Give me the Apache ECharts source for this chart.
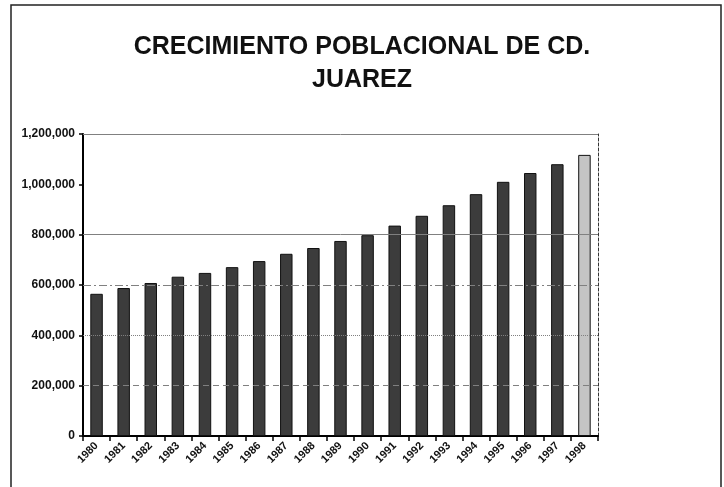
<!DOCTYPE html>
<html>
<head>
<meta charset="utf-8">
<script src="https://cdn.jsdelivr.net/npm/echarts@6/dist/echarts.min.js"></script>
<style>
  html, body { margin: 0; padding: 0; background: #fff; }
  #chart { width: 724px; height: 487px; }
</style>
</head>
<body>
<div id="chart"></div>
<script>
// Población por año (habitantes)
const years = ['1980','1981','1982','1983','1984','1985','1986','1987','1988','1989',
               '1990','1991','1992','1993','1994','1995','1996','1997','1998'];
const population = [565000, 588000, 608000, 633000, 648000, 671000, 695000, 724000, 747000, 775000,
                    798000, 836000, 875000, 917000, 961000, 1010000, 1045000, 1080000, 1117000];
const yTicks = [0, 200000, 400000, 600000, 800000, 1000000, 1200000];
// Líneas de referencia horizontales y su trazo
const refValues = [200000, 400000, 600000, 800000, 1200000];
const refTypes = [[6, 4], 'dotted', [8, 3, 2, 3], 'solid', 'solid'];

const FONT = '"Liberation Sans", Arial, sans-serif';
const chart = echarts.init(document.getElementById('chart'), null, { renderer: 'canvas' });

const fmt = v => v.toString().replace(/\B(?=(\d{3})+(?!\d))/g, ',');

chart.setOption({
  backgroundColor: '#ffffff',
  animation: false,
  title: {
    text: 'CRECIMIENTO POBLACIONAL DE CD.\nJUAREZ',
    left: 'center',
    top: 26,
    textStyle: {
      fontFamily: FONT, fontWeight: 'bold', fontSize: 25,
      color: '#111', lineHeight: 33, align: 'center'
    }
  },
  graphic: [{
    type: 'rect',
    shape: { x: 11, y: 5, width: 710, height: 500 },
    style: { fill: 'none', stroke: '#222', lineWidth: 1.5 },
    z: 0
  }],
  grid: { left: 83, right: 126, top: 134, bottom: 51, containLabel: false },
  xAxis: {
    type: 'category',
    data: years,
    boundaryGap: true,
    axisLine: { lineStyle: { color: '#000', width: 2 } },
    axisTick: { show: true, alignWithLabel: false, length: 5, lineStyle: { color: '#000', width: 1.5 } },
    axisLabel: {
      rotate: 45, interval: 0, margin: 8,
      fontFamily: FONT, fontWeight: 'bold', fontSize: 11, color: '#111'
    },
    splitLine: { show: false }
  },
  yAxis: [{
    type: 'value',
    min: yTicks[0],
    max: yTicks[yTicks.length - 1],
    interval: yTicks[1] - yTicks[0],
    axisLine: { show: true, lineStyle: { color: '#000', width: 2 } },
    axisTick: { show: true, length: 4, lineStyle: { color: '#000', width: 1.5 } },
    axisLabel: {
      margin: 8, fontFamily: FONT, fontWeight: 'bold', fontSize: 12, color: '#111',
      formatter: v => fmt(v)
    },
    splitLine: { show: false }
  }, {
    type: 'value',
    position: 'right',
    min: yTicks[0],
    max: yTicks[yTicks.length - 1],
    interval: yTicks[1] - yTicks[0],
    axisLine: { show: true, lineStyle: { color: '#333', width: 1, type: [3, 2] } },
    axisTick: { show: false },
    axisLabel: { show: false },
    splitLine: { show: false }
  }],
  series: [{
    type: 'bar',
    data: population,
    barWidth: '46%',
    itemStyle: {
      color: p => p.dataIndex === population.length - 1 ? '#c4c4c4' : '#3c3c3c',
      borderColor: '#111',
      borderWidth: 1
    },
    markLine: {
      silent: true,
      symbol: 'none',
      label: { show: false },
      data: refValues.map((v, i) => ({
        yAxis: v,
        lineStyle: { color: '#808080', width: 1, type: refTypes[i] }
      }))
    },
    z: 3
  }]
});
</script>
</body>
</html>
